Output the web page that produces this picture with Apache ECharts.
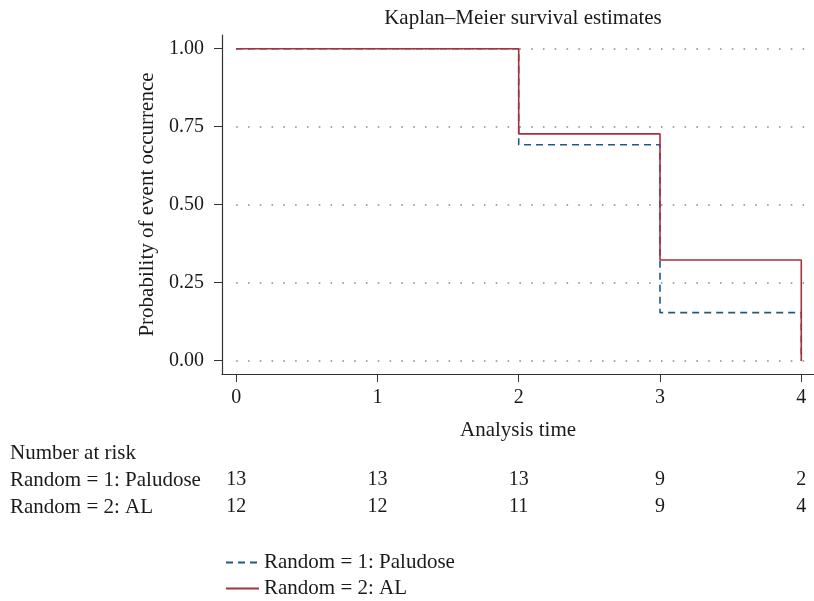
<!DOCTYPE html>
<html>
<head>
<meta charset="utf-8">
<script src="https://cdn.jsdelivr.net/npm/echarts@6/dist/echarts.min.js"></script>
<style>html,body{margin:0;padding:0;background:#fff}#c{width:814px;height:601px}</style>
</head>
<body>
<div id="c"></div>
<script>
// ---- data ----
var xTicks = [0, 1, 2, 3, 4];
var yTicks = [0, 0.25, 0.5, 0.75, 1];
var seriesNames = ['Random = 1: Paludose', 'Random = 2: AL'];
var paludoseTimes = [0, 2, 3, 4];
var paludoseSurv = [1, 0.692, 0.154, 0];
var alTimes = [0, 2, 3, 4];
var alSurv = [1, 0.727, 0.323, 0];
var riskTimes = [0, 1, 2, 3, 4];
var riskPaludose = [13, 13, 13, 9, 2];
var riskAL = [12, 12, 11, 9, 4];

var FONT = '"Liberation Serif", "DejaVu Serif", serif';
var TXT = '#1a1a1a';
var FS = 21;   // text
var FN = 20;   // numbers

function pairs(xs, ys) { return xs.map(function (x, i) { return [x, ys[i]]; }); }
var riskData = [];
riskTimes.forEach(function (t, i) {
  riskData.push([t, seriesNames[0], riskPaludose[i]]);
  riskData.push([t, seriesNames[1], riskAL[i]]);
});

function legendFor(name, top) {
  return {
    orient: 'vertical', left: 220, top: top,
    itemWidth: 33, itemHeight: 14, itemGap: 6,
    data: [name],
    itemStyle: {opacity: 0},
    textStyle: {fontFamily: FONT, fontSize: FS, color: TXT}
  };
}

var chart = echarts.init(document.getElementById('c'), null, {renderer: 'canvas'});
chart.setOption({
  animation: false,
  backgroundColor: '#fff',
  textStyle: {fontFamily: FONT, color: TXT},
  title: {
    text: 'Kaplan\u2013Meier survival estimates',
    left: 518, top: 3, textAlign: 'center',
    textStyle: {fontFamily: FONT, fontSize: FS, fontWeight: 'normal', color: TXT}
  },
  legend: [legendFor(seriesNames[0], 547), legendFor(seriesNames[1], 573)],
  graphic: [{
    type: 'text', left: 10, top: 443,
    style: {text: 'Number at risk', font: FS + 'px ' + FONT, fill: TXT}
  }],
  grid: [
    {left: 222, right: 0, top: 35, bottom: 227},
    {left: 222, right: 0, top: 466.5, height: 54}
  ],
  xAxis: [{
    type: 'value', gridIndex: 0, min: -0.1, max: 4.09,
    name: 'Analysis time', nameLocation: 'middle', nameGap: 46,
    nameTextStyle: {fontFamily: FONT, fontSize: FS, color: TXT},
    axisLine: {show: true, onZero: false, lineStyle: {color: '#333', width: 1.2}},
    axisTick: {show: true, customValues: xTicks, length: 8, lineStyle: {color: '#333'}},
    axisLabel: {customValues: xTicks, margin: 14, fontFamily: FONT, fontSize: FN, color: TXT},
    splitLine: {show: false}
  }, {
    type: 'value', gridIndex: 1, min: -0.1, max: 4.09,
    axisLine: {show: false}, axisTick: {show: false}, axisLabel: {show: false},
    splitLine: {show: false}
  }],
  yAxis: [{
    type: 'value', gridIndex: 0, min: -0.0426, max: 1.044,
    name: 'Probability of event occurrence', nameLocation: 'middle', nameGap: 62,
    nameTextStyle: {fontFamily: FONT, fontSize: FS, color: TXT},
    axisLine: {show: true, onZero: false, lineStyle: {color: '#333', width: 1.2}},
    axisTick: {show: true, customValues: yTicks, length: 8, lineStyle: {color: '#333'}},
    axisLabel: {customValues: yTicks, margin: 18, fontFamily: FONT, fontSize: FN, color: TXT,
      formatter: function (v) { return v.toFixed(2); }},
    splitLine: {show: false}
  }, {
    type: 'category', gridIndex: 1, inverse: true, data: seriesNames,
    axisLine: {show: false}, axisTick: {show: false}, splitLine: {show: false},
    axisLabel: {interval: 0, hideOverlap: false, align: 'left', margin: 212,
      fontFamily: FONT, fontSize: FS, color: TXT}
  }],
  series: [{
    name: seriesNames[0], type: 'line', step: 'end', symbol: 'none',
    xAxisIndex: 0, yAxisIndex: 0, z: 3,
    lineStyle: {color: '#1f5a85', width: 1.6, type: [7, 5]},
    itemStyle: {color: '#1f5a85'},
    data: pairs(paludoseTimes, paludoseSurv),
    markLine: {
      silent: true, symbol: 'none', label: {show: false}, z: 1,
      lineStyle: {color: '#8a8a8a', width: 1.6, type: [1.6, 10.2]},
      data: yTicks.map(function (v) { return [{coord: [0, v]}, {coord: [4.09, v]}]; })
    }
  }, {
    name: seriesNames[1], type: 'line', step: 'end', symbol: 'none',
    xAxisIndex: 0, yAxisIndex: 0, z: 4,
    lineStyle: {color: '#ab303b', width: 1.6, type: 'solid'},
    itemStyle: {color: '#ab303b'},
    data: pairs(alTimes, alSurv)
  }, {
    type: 'scatter', xAxisIndex: 1, yAxisIndex: 1, symbolSize: 0,
    silent: true, legendHoverLink: false,
    itemStyle: {opacity: 1},
    label: {show: true, position: 'inside', fontFamily: FONT, fontSize: FN, color: TXT, opacity: 1,
      formatter: function (p) { return String(p.value[2]); }},
    data: riskData
  }]
});
</script>
</body>
</html>
